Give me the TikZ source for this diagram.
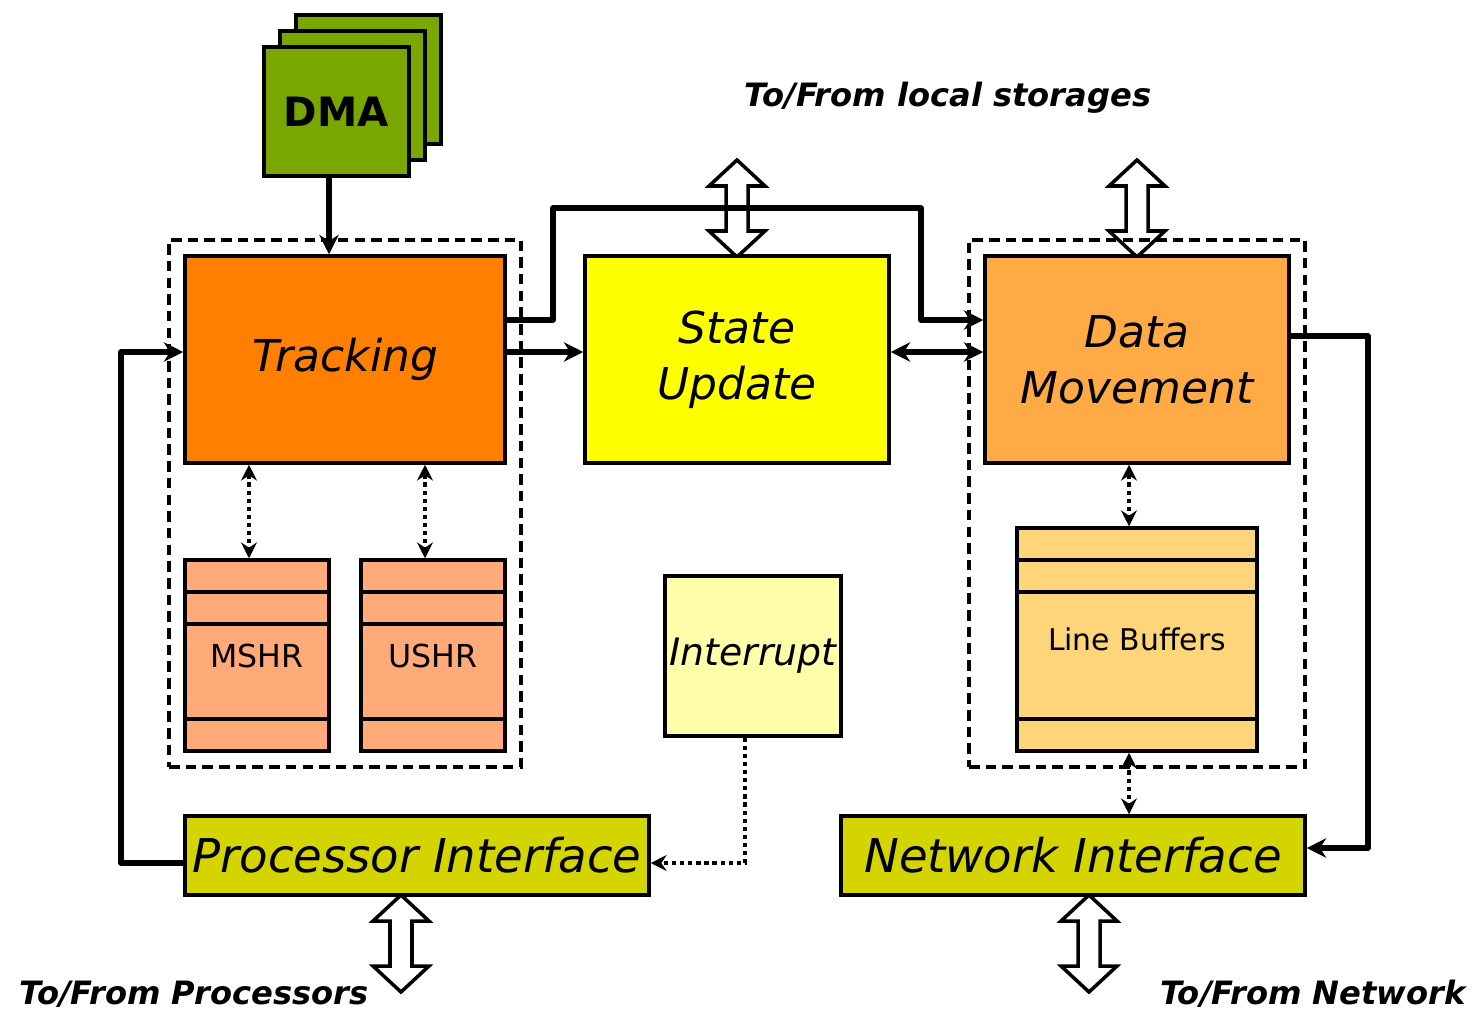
\documentclass[tikz,border=0pt]{standalone}
\usepackage{fontspec}
\setmainfont{DejaVu Sans}
\usetikzlibrary{arrows.meta,calc}

\definecolor{dmagreen}{RGB}{122,166,0}
\definecolor{trackorange}{RGB}{255,127,0}
\definecolor{stateyellow}{RGB}{255,255,0}
\definecolor{moveorange}{RGB}{255,170,68}
\definecolor{regsalmon}{RGB}{255,170,120}
\definecolor{bufferyellow}{RGB}{255,213,122}
\definecolor{irqyellow}{RGB}{255,255,170}
\definecolor{ifolive}{RGB}{212,212,0}

\begin{document}
\tikzset{
  sz/.style 2 args={minimum width=#1*0.02cm, minimum height=#2*0.02cm},
  box/.style={draw=black, line width=2pt, inner sep=0pt, text=black},
  group/.style={draw=black, line width=1.8pt, dash pattern=on 6pt off 3.5pt, inner sep=0pt},
  tip/.style={Stealth[length=11pt,width=11pt,inset=3.5pt]},
  smalltip/.style={Stealth[length=9pt,width=9pt,inset=3pt]},
  conn/.style={line width=3pt, line join=round, -{Stealth[length=11pt,width=11pt,inset=3.5pt]}},
  biconn/.style={conn, {Stealth[length=11pt,width=11pt,inset=3.5pt]}-{Stealth[length=11pt,width=11pt,inset=3.5pt]}},
  dotconn/.style={line width=2.6pt, dash pattern=on 2.4pt off 2.2pt,
    {Stealth[length=9pt,width=9pt,inset=3pt]}-{Stealth[length=9pt,width=9pt,inset=3pt]}},
  dotone/.style={line width=2.6pt, dash pattern=on 2.4pt off 2.2pt,
    -{Stealth[length=9pt,width=9pt,inset=3pt]}},
  bigtext/.style={font=\fontsize{25}{32}\selectfont\itshape, align=center},
  iftext/.style={font=\fontsize{26.5}{31}\selectfont\itshape},
  regtext/.style={font=\fontsize{18}{22}\selectfont},
  iolabel/.style={font=\fontsize{18.3}{22}\selectfont\bfseries\itshape, inner sep=0pt},
  pics/ioarrow/.style={code={
    \draw[line width=2pt, fill=white, line join=miter]
      (0,0) -- (28,26) -- (11,26) -- (11,71) -- (28,71) -- (0,97)
      -- (-28,71) -- (-11,71) -- (-11,26) -- (-28,26) -- cycle;
  }}
}
\begin{tikzpicture}[x=0.02cm,y=-0.02cm]
\useasboundingbox (0,0) rectangle (1480,1011);

% hollow bidirectional ports
\pic at (737,160) {ioarrow};
\pic at (1137,160) {ioarrow};
\pic at (401,895) {ioarrow};
\pic at (1089,895) {ioarrow};

% DMA engines (stacked)
\node[box, fill=dmagreen, sz={145}{129}] (dma3) at (368.5,79.5) {};
\node[box, fill=dmagreen, sz={145}{129}] (dma2) at (352.5,95.5) {};
\node[box, fill=dmagreen, sz={145}{129},
      font=\fontsize{23}{28}\selectfont\bfseries] (dma) at (336.5,111.5) {DMA};

% grouping boxes
\node[group, sz={352}{527}] (lgroup) at (345,503.5) {};
\node[group, sz={336}{527}] (rgroup) at (1137,503.5) {};

% main units
\node[box, fill=trackorange, sz={320}{207}, bigtext] (trk) at (345,359.5) {Tracking};
\node[box, fill=stateyellow, sz={304}{207}, bigtext] (su) at (737,359.5) {State\\Update};
\node[box, fill=moveorange, sz={304}{207}, bigtext] (dm) at (1137,359.5) {Data\\Movement};

% register files
\node[box, fill=regsalmon, sz={144}{191}, regtext] (mshr) at (257,655.5) {MSHR};
\node[box, fill=regsalmon, sz={144}{191}, regtext] (ushr) at (433,655.5) {USHR};
\node[box, fill=bufferyellow, sz={240}{223},
      font=\fontsize{17}{21}\selectfont] (lb) at (1137,639.5) {Line Buffers};
\foreach \n/\ya/\yb/\yc in {mshr/592/624/719, ushr/592/624/719, lb/560/592/719} {
  \foreach \yy in {\ya,\yb,\yc}
    \draw[line width=2pt] (\n.west |- 0,\yy) -- (\n.east |- 0,\yy);
}

% interrupt unit
\node[box, fill=irqyellow, sz={176}{160},
      font=\fontsize{21.5}{26}\selectfont\itshape] (irq) at (753,656) {Interrupt};

% interfaces
\node[box, fill=ifolive, sz={464}{79}, iftext] (pi) at (417,855.5) {Processor Interface};
\node[box, fill=ifolive, sz={464}{79}, iftext] (ni) at (1073,855.5) {Network Interface};

% port labels
\node[iolabel] (lbllocal) at (948,98) {To/From local storages};
\node[iolabel] (lblproc) at (194,994) {To/From Processors};
\node[iolabel] (lblnet) at (1313,994) {To/From Network};

% connectors
\coordinate (dmaout) at ($(dma.south)+(-7.5,0)$);
\draw[conn] (dmaout) -- (dmaout |- trk.north);

\draw[conn] (trk.east |- 0,352) -- (su.west |- 0,352);
\draw[biconn] (su.east |- 0,352) -- (dm.west |- 0,352);
\draw[conn] (trk.east |- 0,320) -| (553,208) -| (921,320) -- (dm.west |- 0,320);

\draw[conn] (dm.east |- 0,336) -| (1368,848) -- (ni.east |- 0,848);
\draw[conn] (pi.west |- 0,863) -| (121,352) -- (trk.west |- 0,352);

\coordinate (mtop) at ($(mshr.north)+(-8,0)$);
\coordinate (utop) at ($(ushr.north)+(-8,0)$);
\coordinate (btop) at ($(lb.north)+(-8,0)$);
\coordinate (bbot) at ($(lb.south)+(-8,0)$);
\draw[dotconn] (mtop |- trk.south) -- (mtop);
\draw[dotconn] (utop |- trk.south) -- (utop);
\draw[dotconn] (btop |- dm.south) -- (btop);
\draw[dotconn] (bbot) -- (bbot |- ni.north);

\coordinate (irqout) at ($(irq.south)+(-8,0)$);
\draw[dotone] (irqout) |- (pi.east |- 0,863);
\end{tikzpicture}
\end{document}
